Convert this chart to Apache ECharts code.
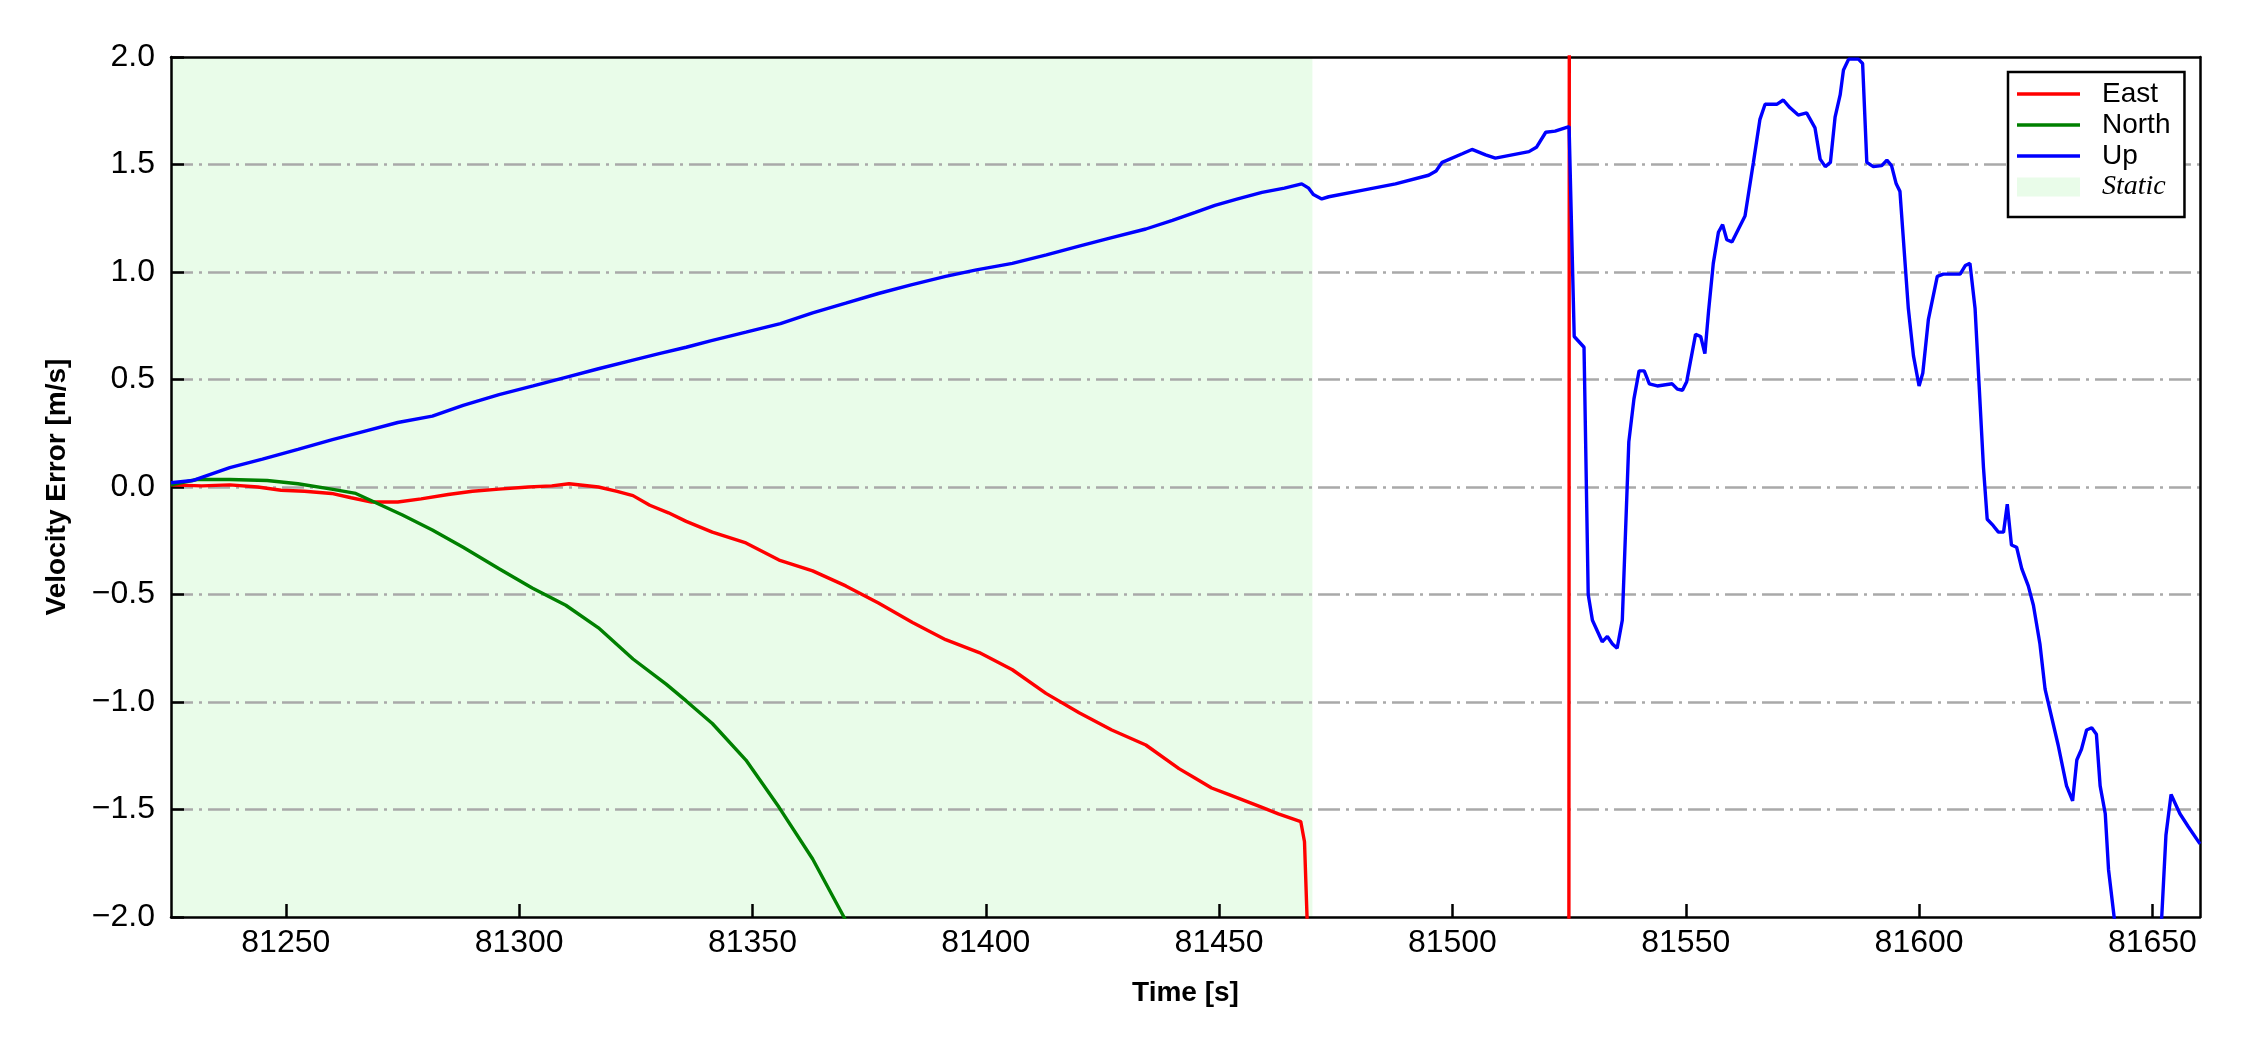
<!DOCTYPE html>
<html>
<head>
<meta charset="utf-8">
<script src="https://cdn.jsdelivr.net/npm/echarts@6/dist/echarts.min.js"></script>
<style>
html,body{margin:0;padding:0;background:#fff;}
#chart{width:2250px;height:1050px;}
</style>
</head>
<body>
<div id="chart"></div>
<script>
// ---- data ----
const xTicks = [81250, 81300, 81350, 81400, 81450, 81500, 81550, 81600, 81650];
const yTicks = [-2.0, -1.5, -1.0, -0.5, 0.0, 0.5, 1.0, 1.5, 2.0];
const timeRange = [81225.4, 81660.2];
const staticRange = [81225.4, 81470.0];

const eastTime = [81225.4, 81232, 81238, 81244, 81249, 81254, 81259.8, 81264, 81268.4, 81274, 81279, 81284.8, 81290, 81295.7, 81302, 81307, 81310.7, 81317, 81321, 81324.4, 81328, 81332, 81335.8, 81341.4, 81348.6, 81355.7, 81362.9, 81370, 81377, 81384.3, 81391.4, 81398.6, 81405.7, 81412.9, 81420, 81427, 81434.3, 81441.4, 81444.9, 81448.4, 81452, 81455.6, 81459.2, 81462.7, 81467.5, 81468.3, 81469, 81470, 81490, 81510, 81524.9, 81525.1, 81560, 81600, 81660.2];
const eastValue = [0.01, 0.005, 0.01, 0.0, -0.015, -0.02, -0.03, -0.05, -0.07, -0.07, -0.055, -0.035, -0.02, -0.01, 0.0, 0.005, 0.015, 0.0, -0.02, -0.04, -0.085, -0.12, -0.16, -0.21, -0.26, -0.34, -0.39, -0.46, -0.54, -0.63, -0.71, -0.77, -0.85, -0.96, -1.05, -1.13, -1.20, -1.31, -1.355, -1.40, -1.43, -1.46, -1.49, -1.52, -1.556, -1.65, -2.1, -2.6, -3.5, -4.2, -4.8, 4.8, 5.2, 5.6, 6.0];

const northTime = [81225.4, 81231, 81238, 81246, 81252.6, 81259.8, 81265, 81270, 81275, 81281.4, 81288, 81295.7, 81302.8, 81310, 81317, 81324.4, 81331.5, 81335.8, 81341.4, 81348.6, 81355.7, 81362.9, 81369.6, 81380, 81400, 81450, 81500, 81550, 81600, 81660.2];
const northValue = [0.01, 0.035, 0.035, 0.03, 0.015, -0.01, -0.03, -0.08, -0.13, -0.2, -0.28, -0.38, -0.47, -0.55, -0.655, -0.80, -0.917, -0.995, -1.10, -1.27, -1.49, -1.73, -2.0, -2.4, -3.2, -5.0, -7.0, -9.0, -11.0, -13.0];

const upTime = [81225.4, 81230, 81238, 81245, 81252.6, 81260, 81267, 81274, 81281.4, 81288, 81295.7, 81303, 81310, 81317, 81324.4, 81330, 81335.8, 81341, 81348.6, 81356, 81362.9, 81370, 81377, 81384, 81391.4, 81398, 81405.7, 81413, 81420, 81427, 81434.3, 81440, 81444.9, 81449.1, 81454, 81459.2, 81464, 81467.7, 81469.2, 81470.2, 81472, 81473.5, 81480.6, 81487.8, 81494.9, 81496.5, 81497.8, 81502.1, 81504.2, 81507.1, 81509.2, 81512.8, 81516.4, 81518, 81520, 81522, 81525, 81526.1, 81528.2, 81529.1, 81530, 81532.1, 81533.2, 81534.3, 81535.3, 81536.4, 81537.8, 81538.9, 81540, 81541.1, 81542.2, 81543.9, 81547.1, 81548.2, 81549.3, 81550.2, 81552.1, 81553.2, 81554.1, 81554.9, 81555.9, 81557, 81557.9, 81558.8, 81559.9, 81561.3, 81562.7, 81564.5, 81565.9, 81567, 81569.5, 81570.9, 81572.3, 81574.1, 81575.9, 81577.7, 81578.8, 81579.9, 81581, 81582, 81583.1, 81583.8, 81584.9, 81587, 81587.9, 81588.8, 81590.2, 81592, 81593.1, 81594.1, 81595.1, 81595.9, 81597.7, 81598.8, 81600, 81600.8, 81602, 81603.9, 81605.2, 81608.8, 81609.9, 81610.9, 81612, 81613.8, 81614.6, 81615.9, 81617, 81618.1, 81618.9, 81619.8, 81620.9, 81622, 81623.4, 81624.5, 81625.9, 81627, 81629.8, 81631.6, 81632.9, 81633.8, 81634.8, 81635.9, 81637, 81638, 81638.8, 81639.9, 81640.6, 81641.8, 81644, 81648, 81650.5, 81652, 81652.9, 81654, 81655.9, 81657.7, 81660.2];
const upValue = [0.02, 0.03, 0.09, 0.13, 0.175, 0.22, 0.26, 0.30, 0.33, 0.38, 0.43, 0.47, 0.51, 0.55, 0.59, 0.62, 0.65, 0.68, 0.72, 0.76, 0.81, 0.855, 0.90, 0.94, 0.98, 1.01, 1.04, 1.08, 1.12, 1.16, 1.20, 1.24, 1.277, 1.31, 1.34, 1.37, 1.39, 1.41, 1.39, 1.36, 1.34, 1.35, 1.38, 1.41, 1.45, 1.47, 1.51, 1.55, 1.57, 1.545, 1.53, 1.545, 1.56, 1.58, 1.65, 1.655, 1.676, 0.70, 0.65, -0.50, -0.62, -0.72, -0.695, -0.73, -0.75, -0.62, 0.21, 0.41, 0.54, 0.54, 0.48, 0.47, 0.48, 0.455, 0.45, 0.49, 0.71, 0.70, 0.62, 0.82, 1.04, 1.185, 1.22, 1.15, 1.14, 1.20, 1.26, 1.51, 1.71, 1.78, 1.78, 1.80, 1.765, 1.73, 1.74, 1.67, 1.525, 1.49, 1.51, 1.72, 1.825, 1.94, 1.99, 1.99, 1.97, 1.51, 1.49, 1.495, 1.52, 1.495, 1.41, 1.375, 0.83, 0.61, 0.47, 0.53, 0.78, 0.98, 0.99, 0.99, 1.03, 1.04, 0.83, 0.09, -0.15, -0.18, -0.21, -0.21, -0.08, -0.27, -0.28, -0.38, -0.46, -0.55, -0.73, -0.94, -1.20, -1.39, -1.46, -1.27, -1.22, -1.13, -1.12, -1.15, -1.39, -1.52, -1.78, -2.0, -2.4, -2.6, -2.3, -2.0, -1.62, -1.43, -1.52, -1.58, -1.66];

const seriesNames = ['East', 'North', 'Up'];
const seriesColors = ['#ff0000', '#008000', '#0000ff'];
const staticName = 'Static';
const staticColor = '#e9fce9';

function zip(t, v) { return t.map((x, i) => [x, v[i]]); }
const fmtY = v => v.toFixed(1).replace('-', '\u2212');

const chart = echarts.init(document.getElementById('chart'), null, {renderer: 'canvas'});
const sans = 'Liberation Sans, Arial, sans-serif';
const serif = 'Liberation Serif, Times New Roman, serif';
const lineW = 3.4;
const lineIcon = 'path://M0,0H63V3.4H0Z';
const boxLine = {show: true, onZero: false, lineStyle: {color: '#000', width: 2.5}};

const option = {
  backgroundColor: '#ffffff',
  animation: false,
  grid: {left: 171, right: 50, top: 57, bottom: 133, show: false},
  legend: {
    orient: 'vertical', left: 2008, top: 72,
    padding: [8, 14, 16, 9],
    itemWidth: 63, itemHeight: 19, itemGap: 3,
    symbolKeepAspect: true,
    backgroundColor: '#fff', borderColor: '#000', borderWidth: 2.5, borderRadius: 0,
    textStyle: {fontFamily: sans, fontSize: 28, color: '#000', padding: [0, 0, 0, 17]},
    data: [
      {name: 'East', icon: lineIcon}, {name: 'North', icon: lineIcon}, {name: 'Up', icon: lineIcon},
      {name: staticName, icon: 'rect', itemStyle: {color: staticColor},
       textStyle: {fontFamily: serif, fontStyle: 'italic', fontSize: 28, padding: [0, 0, 0, 17]}}
    ]
  },
  xAxis: [{
    type: 'value', min: timeRange[0], max: timeRange[1], position: 'bottom', z: 2,
    name: 'Time [s]', nameLocation: 'middle', nameGap: 62,
    nameTextStyle: {fontFamily: sans, fontSize: 28, fontWeight: 'bold', color: '#000'},
    axisLine: boxLine,
    axisTick: {show: true, inside: true, length: 13, lineStyle: {color: '#000', width: 2.5}, customValues: xTicks},
    axisLabel: {fontFamily: sans, fontSize: 32, color: '#000', margin: 10, customValues: xTicks, formatter: v => String(v)},
    splitLine: {show: false}
  }, {
    type: 'value', min: timeRange[0], max: timeRange[1], position: 'top', z: 2,
    axisLine: boxLine, axisTick: {show: false}, axisLabel: {show: false}, splitLine: {show: false}
  }],
  yAxis: [{
    type: 'value', min: -2, max: 2, interval: 0.5, position: 'left', z: 2,
    name: 'Velocity Error [m/s]', nameLocation: 'middle', nameGap: 100, nameRotate: 90,
    nameTextStyle: {fontFamily: sans, fontSize: 28, fontWeight: 'bold', color: '#000'},
    axisLine: boxLine,
    axisTick: {show: true, inside: true, length: 13, lineStyle: {color: '#000', width: 2.5}},
    axisLabel: {fontFamily: sans, fontSize: 32, color: '#000', margin: 16, formatter: fmtY},
    splitLine: {show: true, showMinLine: false, showMaxLine: false,
      lineStyle: {color: '#a9a9a9', width: 2.5, type: [22, 6, 3, 6]}}
  }, {
    type: 'value', min: -2, max: 2, interval: 0.5, position: 'right', z: 2,
    axisLine: boxLine, axisTick: {show: false}, axisLabel: {show: false}, splitLine: {show: false}
  }],
  series: [
    {
      name: staticName, type: 'line', data: [], z: 1, silent: true,
      itemStyle: {color: staticColor}, lineStyle: {color: staticColor},
      markArea: {silent: true, itemStyle: {color: staticColor, opacity: 1},
        data: [[{xAxis: staticRange[0]}, {xAxis: staticRange[1]}]]}
    },
    {name: seriesNames[0], type: 'line', data: zip(eastTime, eastValue), showSymbol: false, symbol: 'none', z: 3,
     itemStyle: {color: seriesColors[0]}, lineStyle: {color: seriesColors[0], width: lineW}},
    {name: seriesNames[1], type: 'line', data: zip(northTime, northValue), showSymbol: false, symbol: 'none', z: 3,
     itemStyle: {color: seriesColors[1]}, lineStyle: {color: seriesColors[1], width: lineW}},
    {name: seriesNames[2], type: 'line', data: zip(upTime, upValue), showSymbol: false, symbol: 'none', z: 3,
     itemStyle: {color: seriesColors[2]}, lineStyle: {color: seriesColors[2], width: lineW}}
  ]
};
chart.setOption(option);
</script>
</body>
</html>
